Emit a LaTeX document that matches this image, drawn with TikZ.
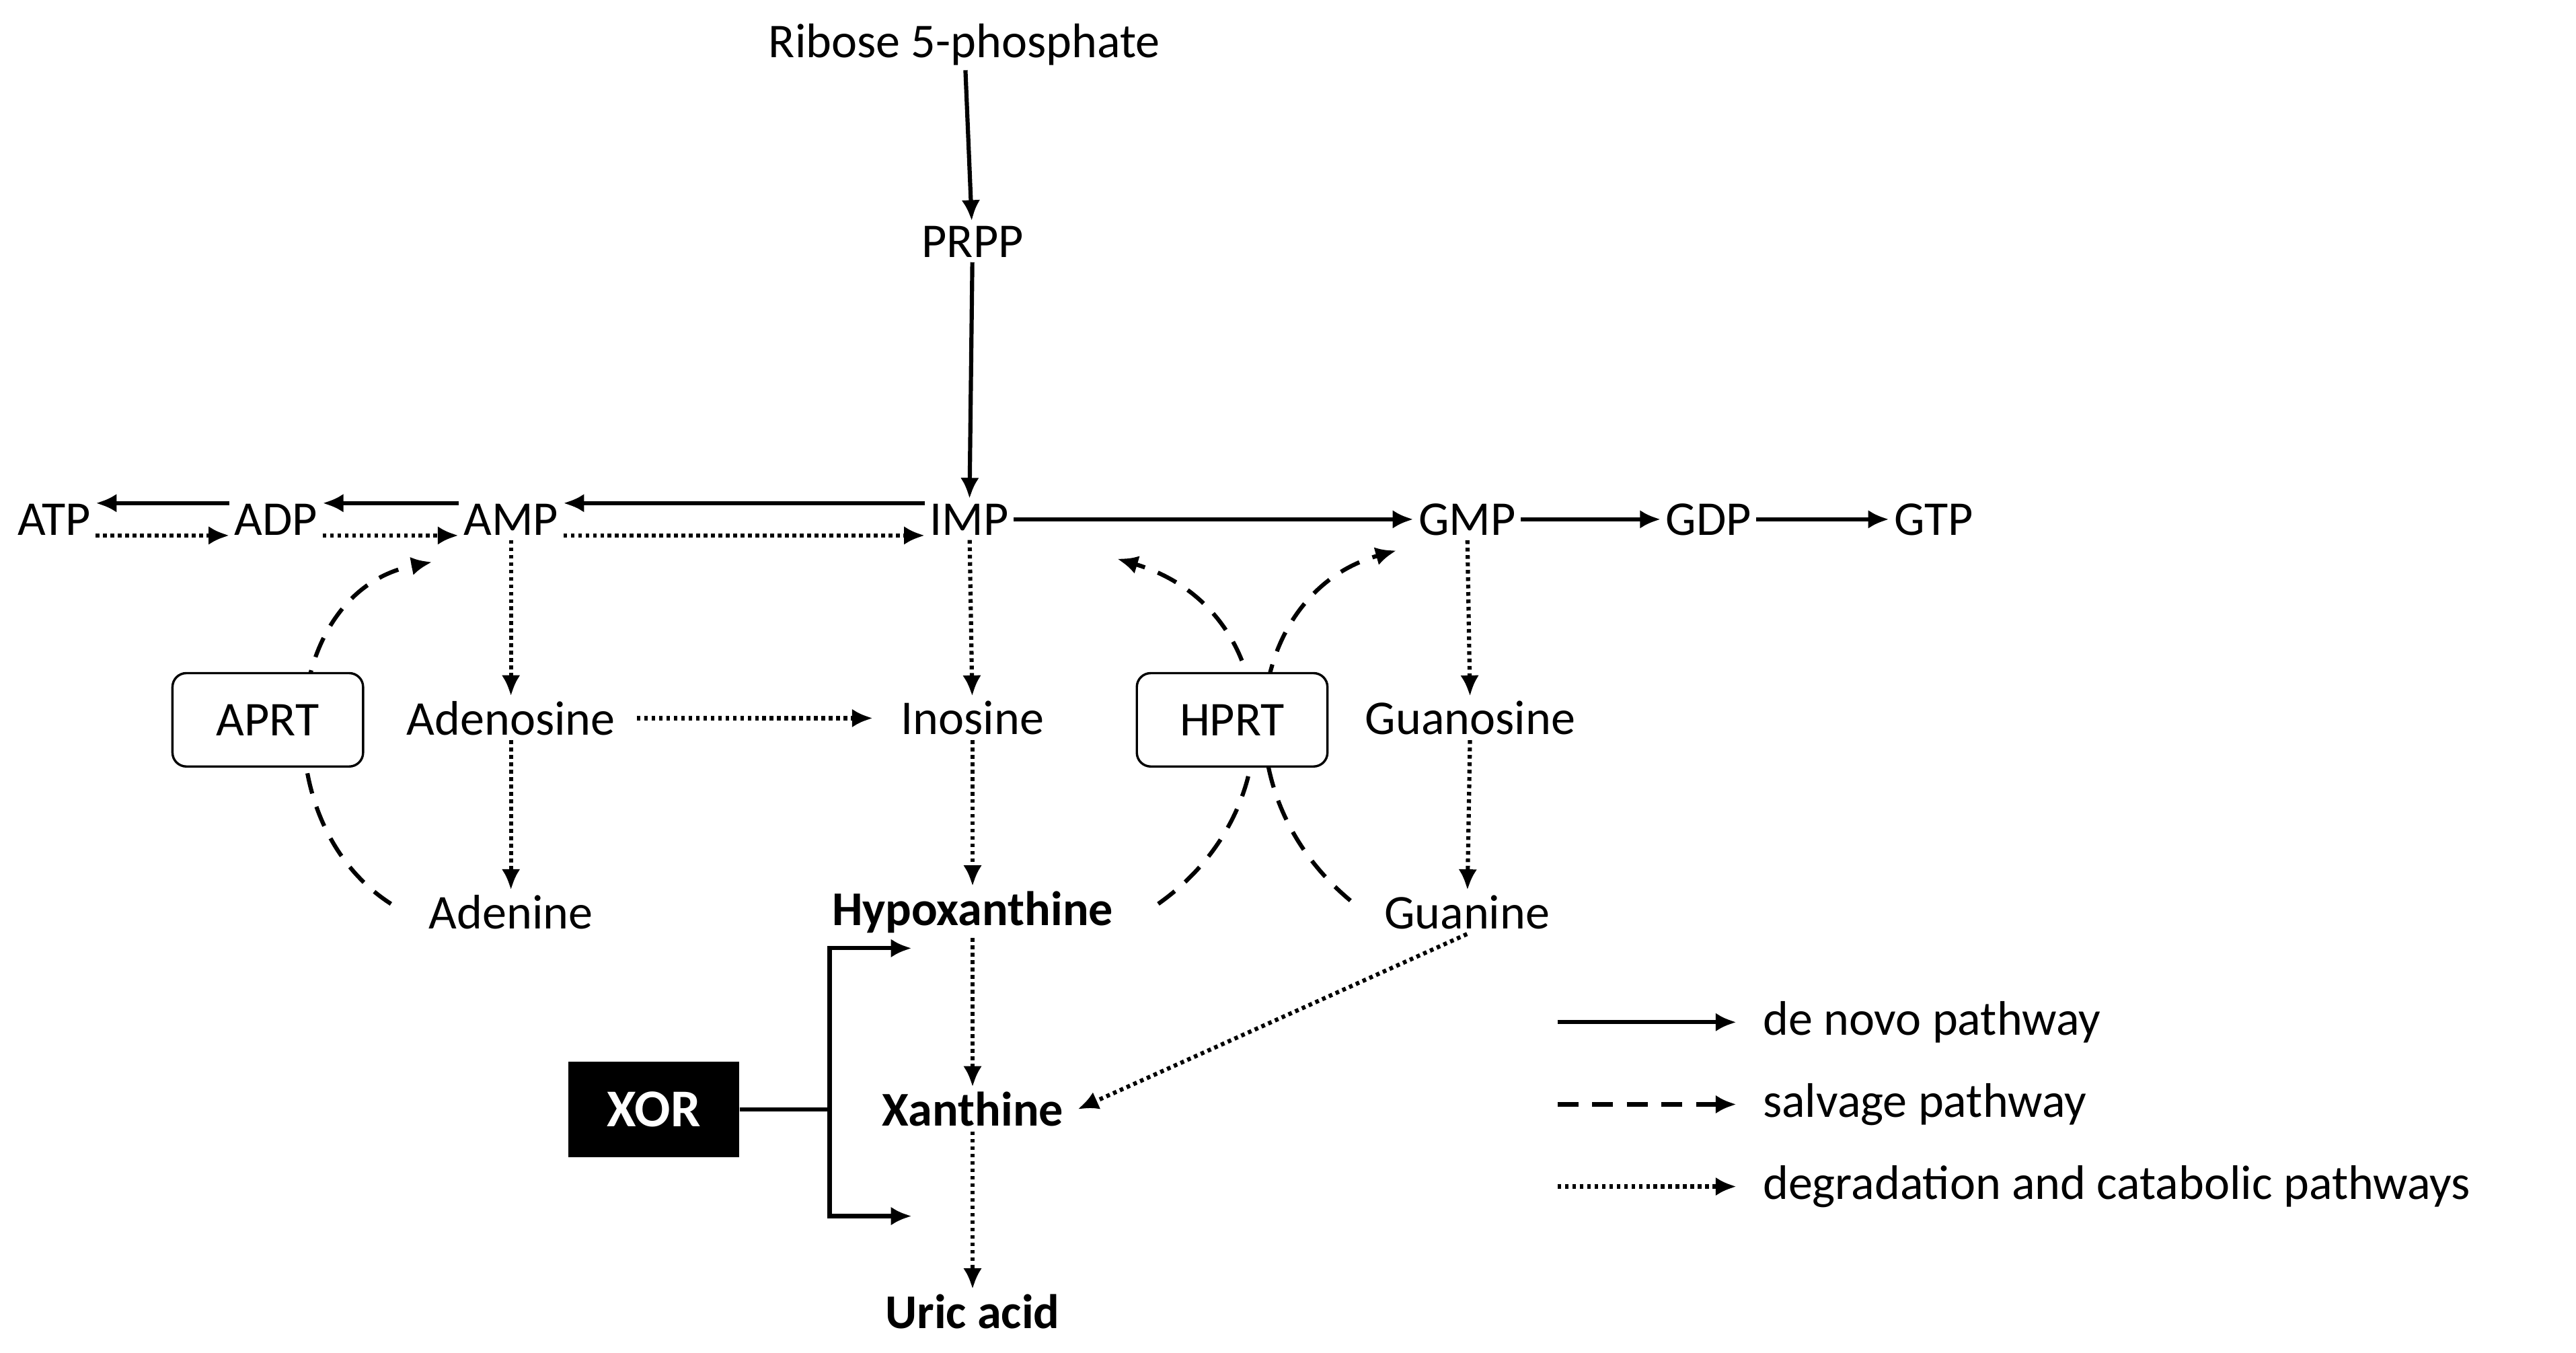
\documentclass[tikz,border=0pt]{standalone}
\usepackage{fontspec}
\setmainfont{Carlito}
\usetikzlibrary{arrows.meta}
\tikzset{
  met/.style={font=\fontsize{21}{25}\selectfont, inner sep=2pt},
  key/.style={met, font=\fontsize{21}{25}\selectfont\bfseries},
  enz/.style={met, draw, rounded corners=6pt, fill=white, line width=1pt, minimum width=2.9cm, minimum height=1.42cm},
  path/.style={line width=1.8pt, -{Latex[length=9pt,width=8pt]}},
  novo/.style={path},
  salv/.style={path, dash pattern=on 9pt off 6pt},
  degr/.style={path, dash pattern=on 1.6pt off 1.6pt},
}
\begin{document}
\begin{tikzpicture}[x=0.025cm, y=-0.025cm]
        \useasboundingbox (0,0) rectangle (1568,823);
        % metabolites
        \node[met] (r5p) at (587,27) {Ribose 5-phosphate};
        \node[met] (prpp) at (592,147) {PRPP};
        \node[met] (imp) at (590,316) {IMP};
        \node[met] (amp) at (311,316) {AMP};
        \node[met] (adp) at (168,316) {ADP};
        \node[met] (atp) at (33,316) {ATP};
        \node[met] (gmp) at (893,316) {GMP};
        \node[met] (gdp) at (1040,316) {GDP};
        \node[met] (gtp) at (1177,316) {GTP};
        \node[met] (ado) at (311,437) {Adenosine};
        \node[met] (ino) at (592,437) {Inosine};
        \node[met] (guo) at (895,437) {Guanosine};
        \node[met] (ade) at (311,555) {Adenine};
        \node[key] (hyp) at (592,555) {Hypoxanthine};
        \node[met] (gua) at (893,555) {Guanine};
        \node[key] (xan) at (592,675) {Xanthine};
        \node[key] (uric) at (592,798) {Uric acid};
        % salvage arcs (under the enzyme boxes)
        \draw[salv] (238,550) .. controls (160,500) and (170,360) .. (263,342);
        \draw[salv] (705,550) .. controls (790,490) and (780,370) .. (680,340);
        \draw[salv] (822,548) .. controls (740,480) and (760,360) .. (850,335);
        \node[enz] (aprt) at (163,438) {APRT};
        \node[enz] (hprt) at (750,438) {HPRT};
        % de novo
        \draw[novo] (r5p) -- (prpp);
        \draw[novo] (prpp) -- (imp);
        \draw[novo] ([yshift=7pt]imp.west) -- ([yshift=7pt]amp.east);
        \draw[novo] ([yshift=7pt]amp.west) -- ([yshift=7pt]adp.east);
        \draw[novo] ([yshift=7pt]adp.west) -- ([yshift=7pt]atp.east);
        \draw[novo] (imp) -- (gmp);
        \draw[novo] (gmp) -- (gdp);
        \draw[novo] (gdp) -- (gtp);
        % degradation
        \draw[degr] ([yshift=-7pt]atp.east) -- ([yshift=-7pt]adp.west);
        \draw[degr] ([yshift=-7pt]adp.east) -- ([yshift=-7pt]amp.west);
        \draw[degr] ([yshift=-7pt]amp.east) -- ([yshift=-7pt]imp.west);
        \draw[degr] (amp) -- (ado);
        \draw[degr] (ado) -- (ade);
        \draw[degr] (ado.east) ++(10,0) -- ([xshift=-10pt]ino.west);
        \draw[degr] (imp) -- (ino);
        \draw[degr] (ino) -- (hyp);
        \draw[degr] (gmp) -- (guo);
        \draw[degr] (guo) -- (gua);
        \draw[degr] (hyp) -- (xan);
        \draw[degr] (xan) -- (uric);
        \draw[degr] (gua.south) -- ([xshift=4pt]xan.east);
        % XOR
        \node[met, fill=black, text=white, font=\fontsize{23}{27}\selectfont\bfseries, minimum width=2.6cm, minimum height=1.45cm] (xor) at (398,675) {XOR};
        \coordinate (brk) at (505,675);
        \coordinate (up) at (555,577);
        \coordinate (dn) at (555,740);
        \draw[line width=1.8pt] (xor) -- (brk);
        \draw[novo] (brk) |- (up);
        \draw[novo] (brk) |- (dn);
        % legend
        \foreach \y/\s/\t in {622/novo/de novo pathway, 672/salv/salvage pathway, 722/degr/degradation and catabolic pathways}{
          \coordinate (l\y) at (948,\y);
          \node[met, anchor=west] (t\y) at (1070,\y) {\t};
          \draw[\s] (l\y) -- ++(109,0);
        }
\end{tikzpicture}
\end{document}
